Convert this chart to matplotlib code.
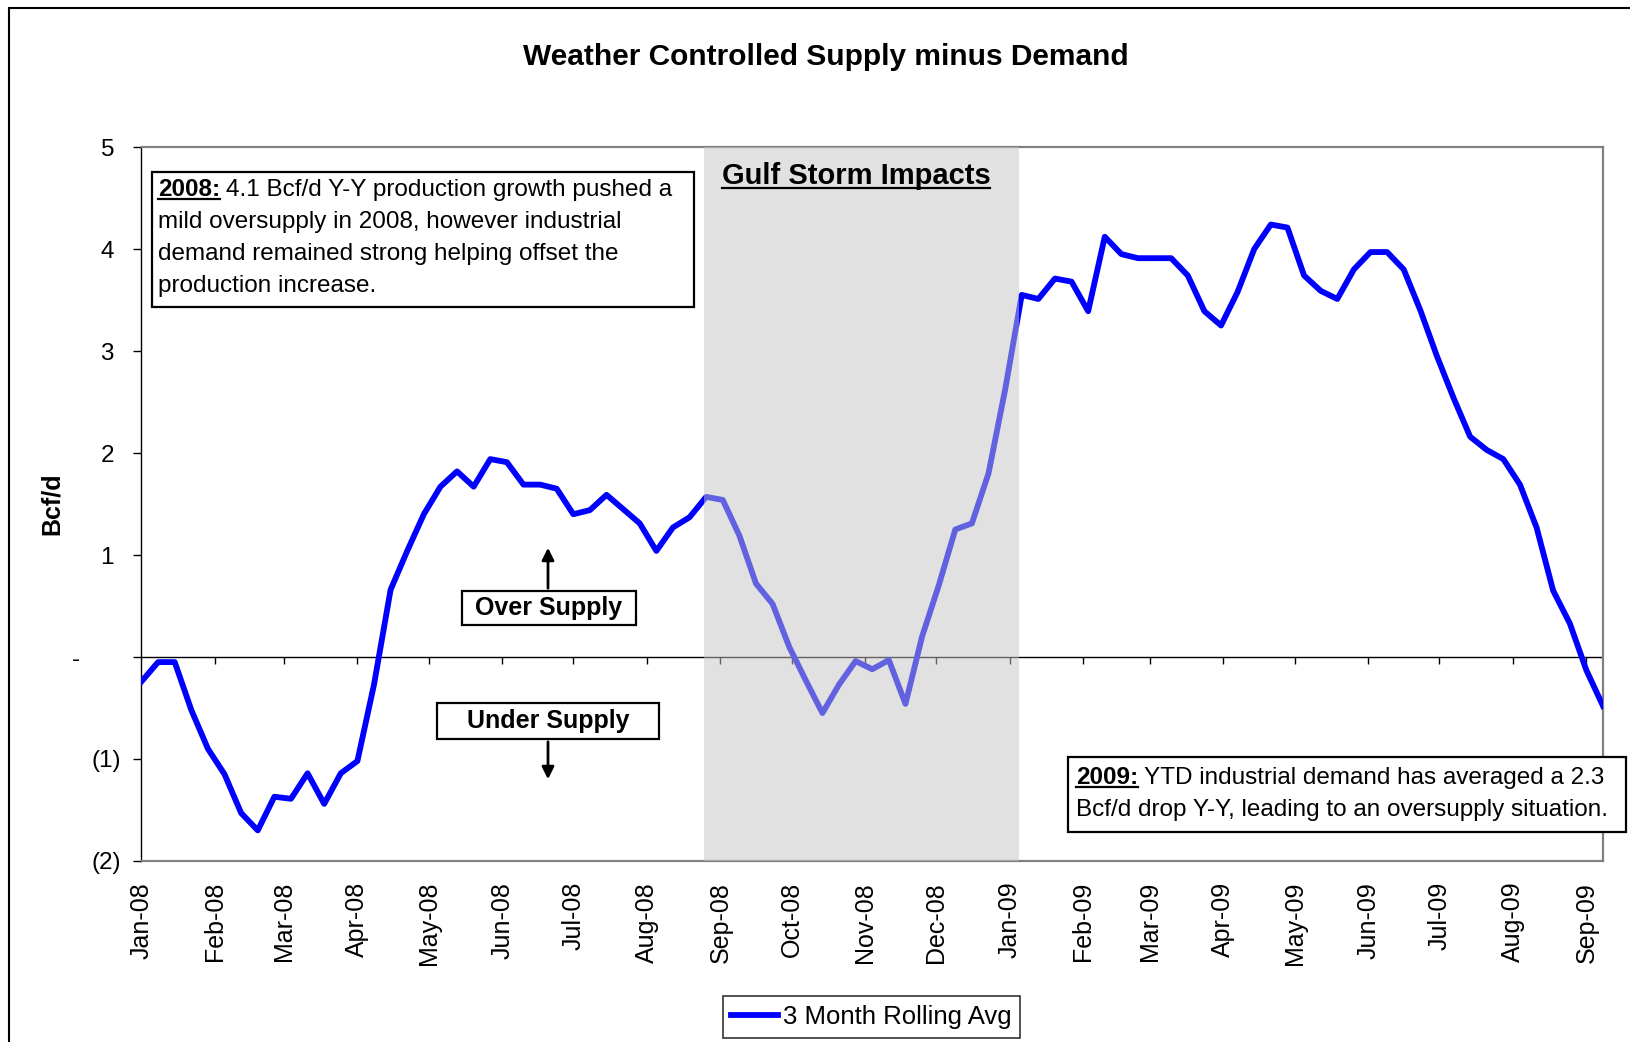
import matplotlib
matplotlib.use('Agg')
import matplotlib.pyplot as plt
import matplotlib.dates as mdates
from matplotlib.patches import Rectangle, FancyArrowPatch
from matplotlib.lines import Line2D
import pandas as pd

plt.rcParams['font.family'] = ['Liberation Sans', 'DejaVu Sans']

# Weekly 3 month rolling average, supply minus demand (Bcf/d)
start_date = '2008-01-01'
rolling_avg = [
    -0.24, -0.05, -0.05, -0.52, -0.90, -1.15, -1.53, -1.70, -1.37, -1.39,
    -1.14, -1.44, -1.14, -1.02, -0.27, 0.66, 1.04, 1.40, 1.67, 1.82,
    1.67, 1.94, 1.91, 1.69, 1.69, 1.65, 1.40, 1.44, 1.59, 1.45,
    1.31, 1.04, 1.27, 1.37, 1.57, 1.54, 1.19, 0.72, 0.52, 0.10,
    -0.23, -0.55, -0.27, -0.04, -0.12, -0.03, -0.46, 0.20, 0.70, 1.25,
    1.31, 1.80, 2.62, 3.55, 3.51, 3.71, 3.68, 3.39, 4.12, 3.95,
    3.91, 3.91, 3.91, 3.74, 3.39, 3.25, 3.58, 4.00, 4.24, 4.21,
    3.74, 3.59, 3.51, 3.80, 3.97, 3.97, 3.80, 3.40, 2.95, 2.54,
    2.16, 2.03, 1.94, 1.69, 1.27, 0.65, 0.33, -0.13, -0.48,
]
storm_window = ('2008-08-25', '2009-01-05')
y_ticks = [-2, -1, 0, 1, 2, 3, 4, 5]
y_tick_labels = ['(2)', '(1)', '-      ', '1 ', '2 ', '3 ', '4 ', '5 ']

title = 'Weather Controlled Supply minus Demand'
note_2008 = ['4.1 Bcf/d Y-Y production growth pushed a',
             'mild oversupply in 2008, however industrial',
             'demand remained strong helping offset the',
             'production increase.']
note_2009 = ['YTD industrial demand has averaged a 2.3',
             'Bcf/d drop Y-Y, leading to an oversupply situation.']

dates = pd.date_range(start_date, periods=len(rolling_avg), freq='7D')
month_ticks = pd.date_range('2008-02-01', dates[-1], freq='MS')

W, H = 1631, 1042
fig = plt.figure(figsize=(W / 100, H / 100), dpi=100)


def fp(x, y):
    # figure pixel (from top-left) -> figure fraction
    return x / W, 1 - y / H


ax = fig.add_axes([141.5 / W, 1 - 861 / H, (1603 - 141.5) / W, (861 - 147) / H])

ax.plot(dates, rolling_avg, color='#0000ff', lw=4.2, label='3 Month Rolling Avg', zorder=3)
ax.axvspan(pd.Timestamp(storm_window[0]), pd.Timestamp(storm_window[1]),
           color='#c4c4c4', alpha=0.5, lw=0, zorder=4)
ax.axhline(0, color='black', lw=1, zorder=2)
ax.vlines(month_ticks, -0.07, 0, color='black', lw=1, zorder=2)

ax.set_xlim(dates[0], dates[-1])
ax.set_ylim(-2, 5)
ax.set_yticks(y_ticks)
ax.set_yticklabels(y_tick_labels)
ax.tick_params(axis='y', direction='out', length=5.8, width=1, pad=9, labelsize=17.5)

ax.xaxis.set_major_locator(mdates.MonthLocator())
ax.xaxis.set_major_formatter(mdates.DateFormatter('%b-%y'))
ax.tick_params(axis='x', length=0, pad=15, labelsize=18, labelrotation=90)

for side in ['top', 'right', 'bottom']:
    ax.spines[side].set_color('#808080')
    ax.spines[side].set_linewidth(1.6)
ax.spines['left'].set_color('black')
ax.spines['left'].set_linewidth(1)

leg = ax.legend(loc='center', bbox_to_anchor=fp(871.5, 1017), bbox_transform=fig.transFigure,
                fontsize=18.5, frameon=True, fancybox=False, edgecolor='black',
                handlelength=1.8, handletextpad=0.2, borderpad=0.35)
leg.get_frame().set_linewidth(1.2)

# titles and labels
fig.text(*fp(826, 57), title, ha='center', va='center', fontsize=21.5, fontweight='bold')
fig.text(*fp(52, 504), 'Bcf/d', rotation=90, ha='center', va='center', fontsize=18, fontweight='bold')

# outer chart border
fig.add_artist(Rectangle(fp(9, H + 5), (W + 5 - 9) / W, (H + 5 - 8) / H, transform=fig.transFigure,
                         fill=False, edgecolor='black', lw=1.5, zorder=0))

renderer = fig.canvas.get_renderer()


def underline(txt, y_px, gap=3):
    bb = txt.get_window_extent(renderer)
    y = 1 - (y_px + gap) / H
    fig.add_artist(Line2D([bb.x0 / W, bb.x1 / W], [y, y], color='black', lw=1.6, zorder=6))
    return bb


def note_box(x0, y0, x1, y1, label, lines, tx, baselines, size=17.5):
    fig.add_artist(Rectangle(fp(x0, y1), (x1 - x0) / W, (y1 - y0) / H, transform=fig.transFigure,
                             facecolor='white', edgecolor='black', lw=1.6, zorder=5))
    lead = fig.text(*fp(tx, baselines[0]), label, ha='left', va='baseline',
                    fontsize=size, fontweight='bold', zorder=6)
    bb = underline(lead, baselines[0])
    fig.text((bb.x1 + 6) / W, 1 - baselines[0] / H, lines[0], ha='left', va='baseline',
             fontsize=size, zorder=6)
    for line, yb in zip(lines[1:], baselines[1:]):
        fig.text(*fp(tx, yb), line, ha='left', va='baseline', fontsize=size, zorder=6)


note_box(152, 172, 694, 307, '2008:', note_2008, 158, [196, 228, 260, 292])
note_box(1068, 757, 1626, 832, '2009:', note_2009, 1076, [784, 816])

gulf = fig.text(*fp(856, 184), 'Gulf Storm Impacts', ha='center', va='baseline',
                fontsize=21, fontweight='bold', zorder=6)
underline(gulf, 184, gap=4)


def supply_box(x0, y0, x1, y1, label, arrow_from, arrow_to):
    fig.add_artist(Rectangle(fp(x0, y1), (x1 - x0) / W, (y1 - y0) / H, transform=fig.transFigure,
                             facecolor='white', edgecolor='black', lw=1.6, zorder=5))
    fig.text(*fp((x0 + x1) / 2, (y0 + y1) / 2), label, ha='center', va='center',
             fontsize=18, fontweight='bold', zorder=6)
    fig.add_artist(FancyArrowPatch(fp(*arrow_from), fp(*arrow_to), transform=fig.transFigure,
                                   arrowstyle='-|>', mutation_scale=18, lw=2, color='black', zorder=6))


supply_box(462, 591, 636, 625, 'Over Supply', (548, 591), (548, 545))
supply_box(437, 703, 659, 739, 'Under Supply', (548, 739), (548, 782))

fig.savefig('out.png', dpi=100)
